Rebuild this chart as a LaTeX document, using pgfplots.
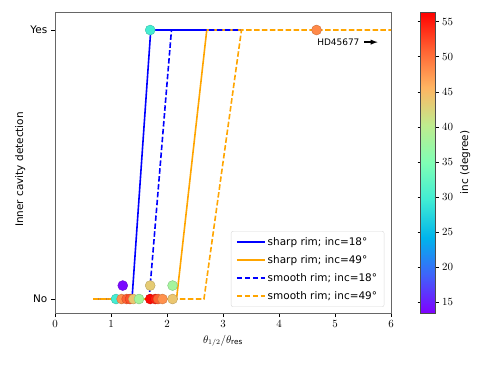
\documentclass[border=0pt]{standalone}
\usepackage{pgfplots}
\pgfplotsset{compat=1.18}
\usepackage{fontspec}
\setmainfont{DejaVu Sans}
\definecolor{mplorange}{RGB}{255,165,0}
\definecolor{mplblue}{RGB}{0,0,255}
\begin{document}
\fontsize{10.5}{12.6}\selectfont
\begin{tikzpicture}
\pgfplotsset{
  colormap={mplrainbow}{rgb=(0.5,0,1) rgb=(0.25,0.383,0.981) rgb=(0,0.707,0.924)
    rgb=(0.25,0.924,0.831) rgb=(0.5,1,0.707) rgb=(0.75,0.924,0.556)
    rgb=(1,0.707,0.383) rgb=(1,0.383,0.195) rgb=(1,0,0)},
}
\begin{axis}[
  name=main,
  scale only axis,
  width=336bp, height=301bp,
  xmin=0, xmax=6,
  ymin=-0.052, ymax=1.067,
  xtick={0,1,2,3,4,5,6},
  ytick={0,1},
  yticklabels={No,Yes},
  tick align=outside,
  xtick pos=bottom, ytick pos=left,
  major tick length=4bp,
  axis line style={black!60, line width=0.9bp},
  tick style={black, line width=0.8bp},
  xlabel={$\theta_{1/2}/\theta_{\rm res}$},
  ylabel={Inner cavity detection},
  ylabel style={yshift=-2bp, xshift=-7bp},
  colormap name=mplrainbow,
  point meta min=13.5, point meta max=56.4,
  colorbar right,
  colorbar style={
    at={(parent axis.north east)}, anchor=north west, xshift=21bp,
    width=15bp, height=301bp,
    ytick={15,20,...,55},
    tick align=outside,
    major tick length=3bp,
    ylabel={inc (degree)},
    axis line style={black!70},
  },
  legend cell align=left,
  legend style={
    at={(0.98,0.02)}, anchor=south east,
    draw=black!15, rounded corners=2bp,
    fill=white, fill opacity=0.8, text opacity=1,
    row sep=4.5bp, inner xsep=5bp, inner ysep=4bp,
  },
  legend image code/.code={\draw[#1] (0bp,0bp) -- (28bp,0bp);},
]
% observed objects: x, detection (0/1), inclination
\addplot[scatter, only marks, forget plot, mark=*, mark size=5bp,
  scatter src=explicit, mark options={draw=none}]
  table[meta=inc] {
x     y     inc
1.09  0     30
1.19  0     48
1.28  0     51
1.34  0     52
1.40  0     44
1.50  0     38
1.70  0     56
1.79  0     55
1.84  0     51
1.92  0     48
2.10  0     44
1.21  0.05  14
1.70  0.05  43.5
2.10  0.05  38
1.70  1     30
4.67  1     48.5
};
\addplot[mplblue, line width=1.6bp]
  coordinates {(0.68,0) (1.375,0) (1.71,1) (2.71,1)};
\addplot[mplorange, line width=1.6bp]
  coordinates {(0.68,0) (2.17,0) (2.71,1) (3.33,1)};
\addplot[mplblue, line width=1.6bp, dash pattern=on 5.5bp off 2.4bp]
  coordinates {(0.68,0) (1.68,0) (2.08,1) (3.33,1)};
\addplot[mplorange, line width=1.6bp, dash pattern=on 5.5bp off 2.4bp]
  coordinates {(0.68,0) (2.66,0) (3.33,1) (6.5,1)};
\legend{sharp rim; inc=18°, sharp rim; inc=49°, smooth rim; inc=18°, smooth rim; inc=49°}
\node[anchor=west, font=\fontsize{9}{10}\selectfont, inner sep=0pt]
  at (axis cs:4.68,0.955) {HD45677};
\draw[-latex, line width=1.4bp] (axis cs:5.52,0.955) -- (axis cs:5.76,0.955);
\end{axis}
\pgfresetboundingbox
\path[use as bounding box] ([shift={(-55bp,-55bp)}]main.south west) rectangle ([shift={(99bp,12bp)}]main.north east);
\end{tikzpicture}
\end{document}
